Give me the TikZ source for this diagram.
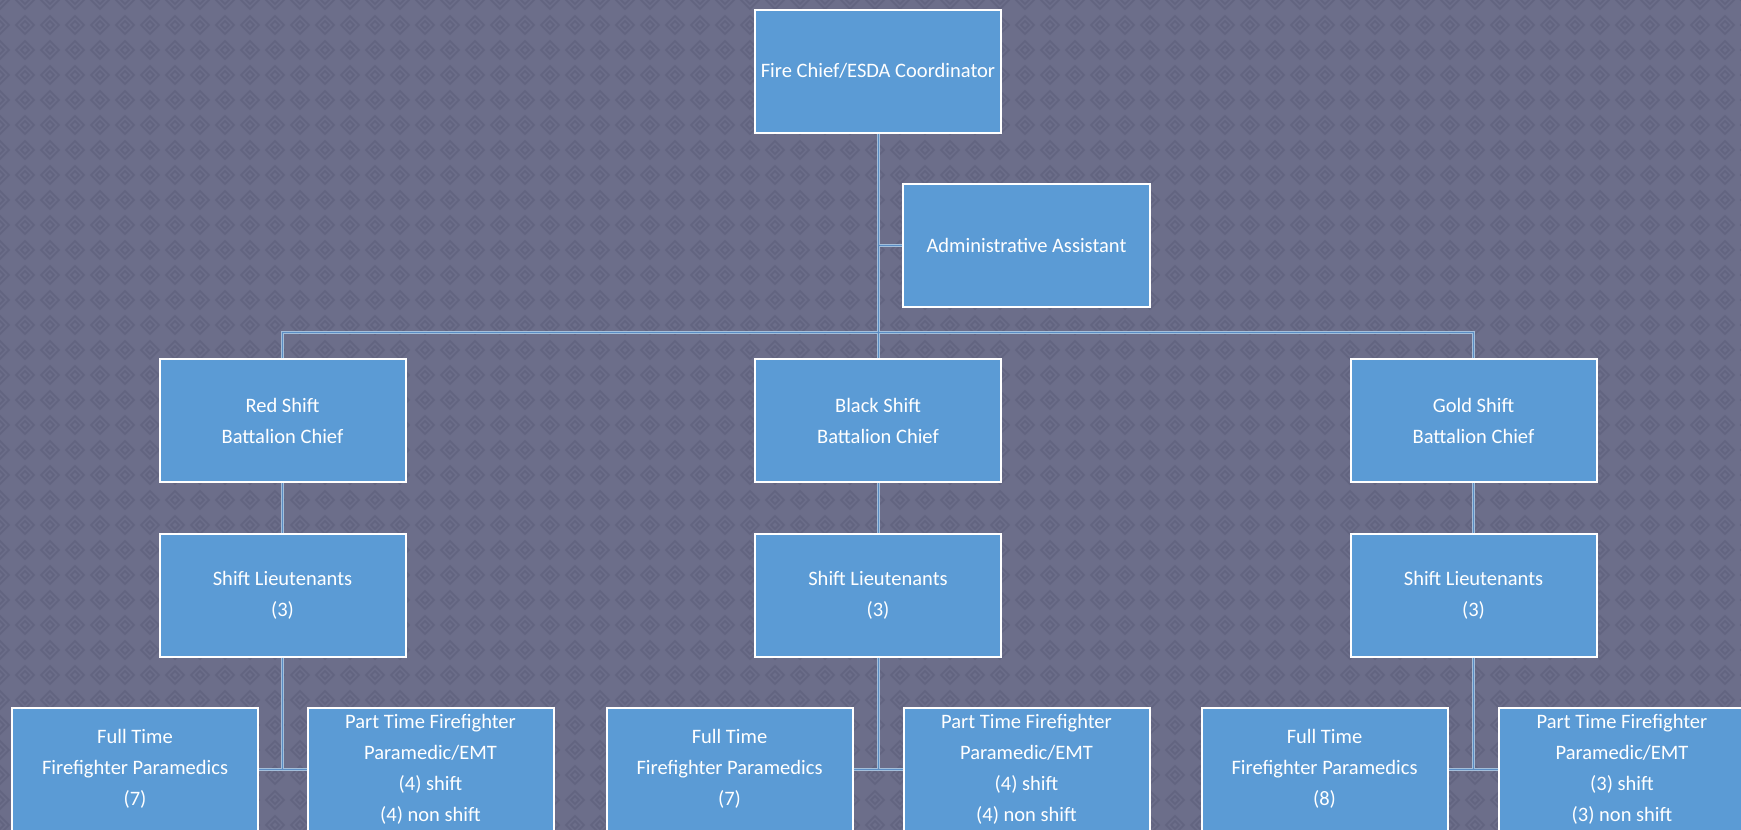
\documentclass[tikz,border=0pt]{standalone}
\usepackage{fontspec}
\setmainfont{Carlito}
\definecolor{bgc}{HTML}{6C6E8A}
\definecolor{bgd}{HTML}{626480}
\definecolor{boxc}{HTML}{5B9BD5}
\definecolor{lnout}{HTML}{A3BEDA}
\definecolor{lnin}{HTML}{5A8DC4}
\tikzset{
  orgbox/.style={draw=white, line width=2pt, fill=boxc, text=white,
    minimum width=246pt, minimum height=123pt, inner sep=0pt, align=center,
    font=\fontsize{20.5}{31}\selectfont},
  conn/.style={draw=lnout, line width=3pt},
  conncore/.style={draw=lnin, line width=1pt},
  texture/.style={draw=bgd, line width=1.6pt}
}
\begin{document}
\begin{tikzpicture}[x=1pt,y=-1pt]
\useasboundingbox (0,0) rectangle (1741,830);
\clip (0,0) rectangle (1741,830);
\fill[bgc] (0,0) rectangle (1741,830);
\foreach \i in {0,...,70}{
  \foreach \j in {0,...,34}{
    \draw[texture] (\i*25,\j*25-9) -- ++(9,9) -- ++(-9,9) -- ++(-9,-9) -- cycle
                   (\i*25,\j*25-4) -- ++(4,4) -- ++(-4,4) -- ++(-4,-4) -- cycle;
  }
}
% nodes
\node[orgbox] (chief) at (878,71) {Fire Chief/ESDA Coordinator};
\node[orgbox, minimum width=247pt] (admin) at (1026.5,245) {Administrative Assistant};
\node[orgbox] (red) at (282.5,420.5) {Red Shift\\Battalion Chief};
\node[orgbox] (black) at (878,420.5) {Black Shift\\Battalion Chief};
\node[orgbox] (gold) at (1473.5,420.5) {Gold Shift\\Battalion Chief};
\node[orgbox] (redlt) at (282.5,595) {Shift Lieutenants\\(3)};
\node[orgbox] (blacklt) at (878,595) {Shift Lieutenants\\(3)};
\node[orgbox] (goldlt) at (1473.5,595) {Shift Lieutenants\\(3)};
\node[orgbox] (redft) at (135,769) {Full Time\\Firefighter Paramedics\\(7)};
\node[orgbox] (redpt) at (430.5,769) {Part Time Firefighter\\Paramedic/EMT\\(4) shift\\(4) non shift};
\node[orgbox] (blackft) at (729.5,769) {Full Time\\Firefighter Paramedics\\(7)};
\node[orgbox] (blackpt) at (1026.5,769) {Part Time Firefighter\\Paramedic/EMT\\(4) shift\\(4) non shift};
\node[orgbox] (goldft) at (1324.5,769) {Full Time\\Firefighter Paramedics\\(8)};
\node[orgbox] (goldpt) at (1622,769) {Part Time Firefighter\\Paramedic/EMT\\(3) shift\\(3) non shift};
% connectors
\foreach \s in {conn,conncore}{
  \draw[\s] (chief.south) -- (black.north);
  \draw[\s] (admin.west) -- (admin.west -| chief.south);
  \draw[\s] (red.north) -- ++(0,-26) -| (gold.north);
  \draw[\s] (red.south) -- (redlt.north);
  \draw[\s] (black.south) -- (blacklt.north);
  \draw[\s] (gold.south) -- (goldlt.north);
  \draw[\s] (redlt.south) -- (redlt.south |- redft.east);
  \draw[\s] (blacklt.south) -- (blacklt.south |- blackft.east);
  \draw[\s] (goldlt.south) -- (goldlt.south |- goldft.east);
  \draw[\s] (redft.east) -- (redpt.west);
  \draw[\s] (blackft.east) -- (blackpt.west);
  \draw[\s] (goldft.east) -- (goldpt.west);
}
\end{tikzpicture}
\end{document}
